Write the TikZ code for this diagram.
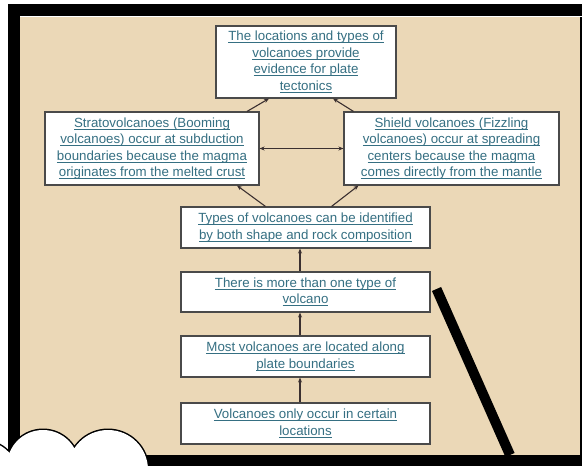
\documentclass[tikz,border=0pt]{standalone}
\usepackage{fontspec}
\setmainfont{Liberation Sans}
\usetikzlibrary{calc,arrows.meta}
\definecolor{paper}{HTML}{EBD8B7}
\definecolor{linktext}{HTML}{356F82}
\definecolor{wire}{HTML}{3B3030}
\definecolor{boxline}{HTML}{4A4A4A}
% underlined link-style text with the rule at a fixed depth
\newcommand\lnk[1]{\setbox0\hbox{#1}\leavevmode\rlap{\rule[-2.2pt]{\wd0}{0.75pt}}\box0}
\tikzset{
  concept/.style={draw=boxline, line width=1.1pt, fill=white, inner sep=0pt,
    align=center, text=linktext,
    font=\fontsize{13.3}{16.5}\selectfont},
  link/.style={draw=wire, line width=1.1pt, -{Stealth[length=5pt,width=4pt]}},
  twoway/.style={draw=wire, line width=1.1pt, {Stealth[length=5pt,width=4pt]}-{Stealth[length=5pt,width=4pt]}}
}
\begin{document}
\begin{tikzpicture}[x=1pt,y=-1pt]
\useasboundingbox (0,0) rectangle (582,466);
\fill[white] (0,0) rectangle (582,466);
% slide frame and board
\fill[black] (8,4) rectangle (582,466);
\fill[paper] (20,17) rectangle (580,455);
\draw[white, line width=1pt] (20,16.5) -- (582,16.5);

% concept boxes
\node[concept, minimum width=180pt, minimum height=72pt] (top) at (306,62)
  {\lnk{The locations and types of}\\\lnk{volcanoes provide}\\\lnk{evidence for plate}\\\lnk{tectonics}};
\node[concept, minimum width=214pt, minimum height=73pt] (strato) at (152,148.5)
  {\lnk{Stratovolcanoes (Booming}\\\lnk{volcanoes) occur at subduction}\\\lnk{boundaries because the magma}\\\lnk{originates from the melted crust}};
\node[concept, minimum width=215pt, minimum height=73pt] (shield) at (451.5,148.5)
  {\lnk{Shield volcanoes (Fizzling}\\\lnk{volcanoes) occur at spreading}\\\lnk{centers because the magma}\\\lnk{comes directly from the mantle}};
\node[concept, minimum width=249pt, minimum height=41pt] (types) at (305.5,227.5)
  {\lnk{Types of volcanoes can be identified}\\\lnk{by both shape and rock composition}};
\node[concept, minimum width=249pt, minimum height=40pt] (more) at (305.5,292)
  {\lnk{There is more than one type of}\\\lnk{volcano}};
\node[concept, minimum width=249pt, minimum height=41pt] (most) at (305.5,356.5)
  {\lnk{Most volcanoes are located along}\\\lnk{plate boundaries}};
\node[concept, minimum width=249pt, minimum height=41pt] (only) at (305.5,423.5)
  {\lnk{Volcanoes only occur in certain}\\\lnk{locations}};

% connectors
\draw[link] ($(strato.north)+(95,0)$) -- ($(top.south)+(-37,0)$);
\draw[link] ($(shield.north)+(-98,0)$) -- ($(top.south)+(27,0)$);
\draw[twoway] (strato.east) -- (shield.west);
\draw[link] ($(types.north)+(-40,0)$) -- ($(strato.south)+(85,0)$);
\draw[link] ($(types.north)+(26,0)$) -- ($(shield.south)+(-93,0)$);
\draw[link] ($(more.north)+(-5.5,0)$) -- ($(types.south)+(-5.5,0)$);
\draw[link] ($(most.north)+(-5.5,0)$) -- ($(more.south)+(-5.5,0)$);
\draw[link] ($(only.north)+(-5.5,0)$) -- ($(most.south)+(-5.5,0)$);

% heavy diagonal stroke across the board
\coordinate (slashtop) at ($(more.east)+(6,-3)$);
\coordinate (slashend) at (510,455);
\draw[black, line width=10pt] (slashtop) -- (slashend);

% cloud in the lower left corner
\begin{scope}
\clip (0,0) rectangle (582,466);
\draw[black, line width=3pt] (-20,480) circle (40) (43,466) circle (36) (108,470) circle (40);
\fill[white] (-20,480) circle (40) (43,466) circle (36) (108,470) circle (40);
\end{scope}
\end{tikzpicture}
\end{document}
